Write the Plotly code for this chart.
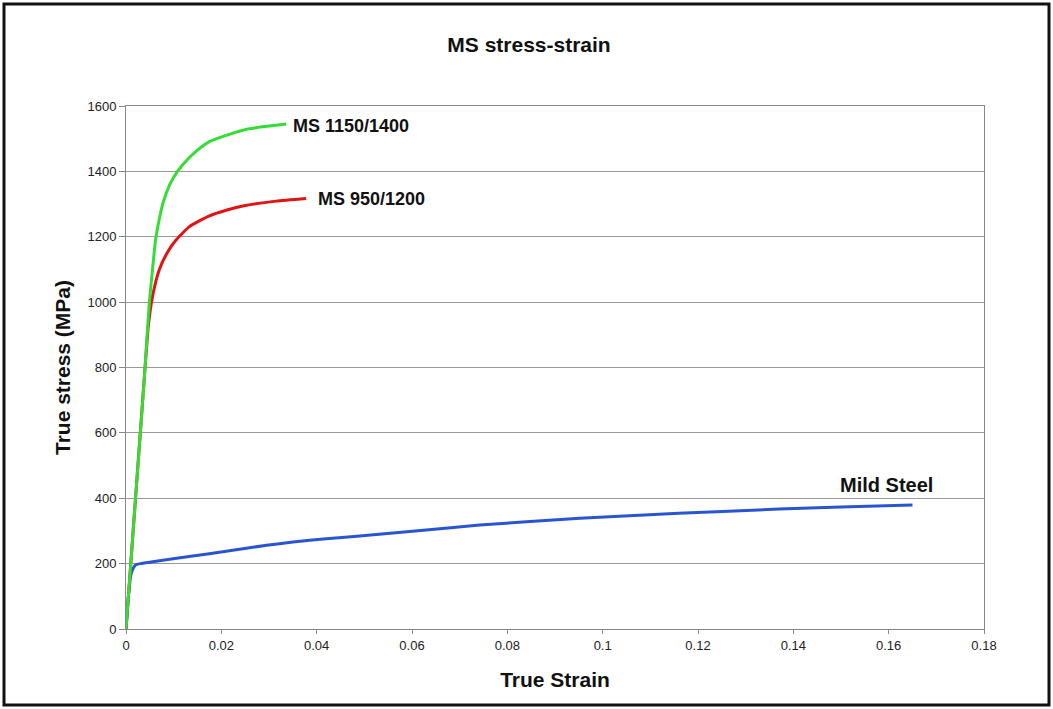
import plotly.graph_objects as go

# MS 1150/1400 (green)
ms1150_strain = [0, 0.001, 0.002, 0.003, 0.004, 0.0049, 0.0056, 0.0062, 0.0070, 0.0078, 0.0092, 0.0108, 0.0128, 0.0150, 0.0175, 0.0210, 0.0245, 0.0290, 0.0336]
ms1150_stress = [0, 200, 400, 600, 800, 1000, 1105, 1190, 1255, 1305, 1360, 1400, 1435, 1465, 1491, 1510, 1526, 1537, 1545]

# MS 950/1200 (red)
ms950_strain = [0, 0.001, 0.002, 0.003, 0.004, 0.0047, 0.0056, 0.0070, 0.0088, 0.0105, 0.0133, 0.0175, 0.0210, 0.0245, 0.0315, 0.0378]
ms950_stress = [0, 200, 400, 600, 800, 930, 1020, 1100, 1155, 1190, 1231, 1264, 1281, 1294, 1309, 1317]

# Mild Steel (blue)
mild_strain = [0, 0.0004, 0.0007, 0.001, 0.0015, 0.002, 0.003, 0.0056, 0.014, 0.021, 0.0295, 0.035, 0.042, 0.0525, 0.0595, 0.0742, 0.0952, 0.116, 0.137, 0.150, 0.165]
mild_stress = [0, 80, 130, 165, 186, 196, 200, 206, 223, 238, 256, 266, 276, 289, 298, 318, 339, 354, 367, 373, 379]

series_names = ["Mild Steel", "MS 950/1200", "MS 1150/1400"]
series_colors = ["#2a55d0", "#e01414", "#33dd33"]

y_ticks = [0, 200, 400, 600, 800, 1000, 1200, 1400, 1600]
x_ticks = [0, 0.02, 0.04, 0.06, 0.08, 0.1, 0.12, 0.14, 0.16, 0.18]
x_tick_labels = ["0", "0.02", "0.04", "0.06", "0.08", "0.1", "0.12", "0.14", "0.16", "0.18"]

FONT = "Liberation Sans, Arial, sans-serif"

fig = go.Figure()
for xs, ys, name, col in zip(
    [mild_strain, ms950_strain, ms1150_strain],
    [mild_stress, ms950_stress, ms1150_stress],
    series_names, series_colors,
):
    fig.add_trace(go.Scatter(x=xs, y=ys, mode="lines", name=name,
                             line=dict(color=col, width=3, shape="spline", smoothing=0.5)))

# curve labels
fig.add_annotation(x=ms1150_strain[-1], y=ms1150_stress[-1], text="<b>MS 1150/1400</b>",
                   xanchor="left", yanchor="middle", xshift=5, yshift=-2, showarrow=False,
                   font=dict(family=FONT, size=18, color="#111"))
fig.add_annotation(x=ms950_strain[-1], y=ms950_stress[-1], text="<b>MS 950/1200</b>",
                   xanchor="left", yanchor="middle", xshift=10, yshift=0, showarrow=False,
                   font=dict(family=FONT, size=18, color="#111"))
fig.add_annotation(x=mild_strain[-1], y=mild_stress[-1], text="<b>Mild Steel</b>",
                   xanchor="right", yanchor="middle", xshift=22, yshift=20, showarrow=False,
                   font=dict(family=FONT, size=20, color="#111"))

# outer black frame
fig.add_shape(type="rect", xref="paper", yref="paper",
              x0=(4 - 126) / 858, x1=(1049 - 126) / 858,
              y0=(629 - 705) / 523, y1=(629 - 4) / 523,
              line=dict(color="#111", width=3), fillcolor="rgba(0,0,0,0)", layer="above")

fig.update_layout(
    width=1053, height=709,
    margin=dict(l=126, r=69, t=106, b=80),
    paper_bgcolor="white", plot_bgcolor="white",
    showlegend=False,
    title=dict(text="<b>MS stress-strain</b>", x=529 / 1053,
               xanchor="center", y=1 - 45 / 709, yanchor="middle",
               font=dict(family=FONT, size=21, color="#111")),
    font=dict(family=FONT, size=13, color="#222"),
)
fig.update_xaxes(range=[0, 0.18], tickvals=x_ticks, ticktext=x_tick_labels,
                 showgrid=False, zeroline=False,
                 showline=True, linecolor="#888", linewidth=1, mirror=True,
                 ticks="outside", ticklen=4, tickcolor="#888",
                 tickfont=dict(family=FONT, size=13, color="#222"),
                 title=dict(text="<b>True Strain</b>", standoff=20,
                            font=dict(family=FONT, size=21, color="#111")))
fig.update_yaxes(range=[0, 1600], tickvals=y_ticks,
                 showgrid=True, gridcolor="#999", gridwidth=1, zeroline=False,
                 showline=True, linecolor="#888", linewidth=1, mirror=True,
                 ticks="outside", ticklen=6, tickcolor="#888",
                 tickfont=dict(family=FONT, size=13, color="#222"),
                 title=dict(text="<b>True stress (MPa)</b>", standoff=11,
                            font=dict(family=FONT, size=21, color="#111")))

fig.write_html("out.html")
